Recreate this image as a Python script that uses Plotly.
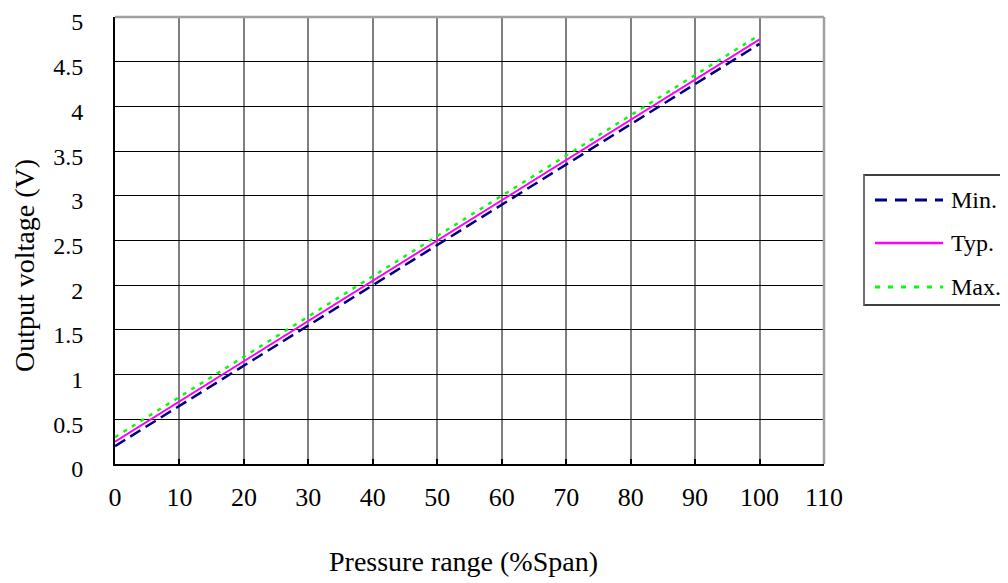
import plotly.graph_objects as go

pressure = [0, 10, 20, 30, 40, 50, 60, 70, 80, 90, 100]
v_min = [0.20, 0.65, 1.10, 1.55, 2.00, 2.45, 2.90, 3.35, 3.80, 4.25, 4.70]
v_typ = [0.25, 0.70, 1.15, 1.60, 2.05, 2.50, 2.95, 3.40, 3.85, 4.30, 4.75]
v_max = [0.30, 0.75, 1.20, 1.65, 2.10, 2.55, 3.00, 3.45, 3.90, 4.35, 4.80]

x_ticks = [0, 10, 20, 30, 40, 50, 60, 70, 80, 90, 100, 110]
y_ticks = [0, 0.5, 1, 1.5, 2, 2.5, 3, 3.5, 4, 4.5, 5]
y_labels = ["0", "0.5", "1", "1.5", "2", "2.5", "3", "3.5", "4", "4.5", "5"]

series_names = ["Min.", "Typ.", "Max."]
series_colors = ["#000080", "#FF00FF", "#00FF00"]
series_dash = ["12px,6px", "solid", "4px,6px"]
legend_dash = ["12px,8px", "solid", "5px,8px"]
series_width = [2.5, 2, 2.5]

FONT = "Liberation Serif"

fig = go.Figure()
for name, vals, col, dash, w in zip(series_names, [v_min, v_typ, v_max],
                                     series_colors, series_dash, series_width):
    fig.add_trace(go.Scatter(x=pressure, y=vals, mode="lines", name=name,
                             line=dict(color=col, width=w, dash=dash),
                             showlegend=False))

# top and right plot border in gray
fig.add_shape(type="line", xref="paper", yref="paper", x0=0, x1=1, y0=1, y1=1,
              line=dict(color="#a0a0a0", width=2.5), layer="above")
fig.add_shape(type="line", xref="paper", yref="paper", x0=1, x1=1, y0=0, y1=1,
              line=dict(color="#a0a0a0", width=2.5), layer="above")

# custom legend box
fig.add_shape(type="rect", xref="paper", yref="paper",
              x0=1.0564, x1=1.30, y0=0.3557, y1=0.6465,
              line=dict(color="black", width=1.5), fillcolor="white")
fig.add_shape(type="line", xref="paper", yref="paper",
              x0=1.0564, x1=1.0564, y0=0.3557, y1=0.6465,
              line=dict(color="#808080", width=1.5))
leg_y = [0.5906, 0.4944, 0.396]
for name, col, dash, w, ly in zip(series_names, series_colors, legend_dash,
                                  series_width, leg_y):
    fig.add_shape(type="line", xref="paper", yref="paper",
                  x0=1.0719, x1=1.1678, y0=ly, y1=ly,
                  line=dict(color=col, width=w + 0.5, dash=dash))
    fig.add_annotation(text=name, xref="paper", yref="paper", x=1.1763, y=ly,
                       xanchor="left", yanchor="middle", showarrow=False,
                       font=dict(family=FONT, size=24, color="black"))

# axis titles
fig.add_annotation(text="Pressure range (%Span)", xref="paper", yref="paper",
                   x=0.4922, y=-0.2192, xanchor="center", yanchor="middle",
                   showarrow=False, font=dict(family=FONT, size=28, color="black"))
fig.add_annotation(text="Output voltage (V)", xref="paper", yref="paper",
                   x=-0.1269, y=0.443, xanchor="center", yanchor="middle",
                   textangle=-90, showarrow=False,
                   font=dict(family=FONT, size=28, color="black"))

fig.update_layout(
    width=1008, height=583,
    margin=dict(l=107, r=192, t=9, b=127),
    paper_bgcolor="white", plot_bgcolor="white",
    font=dict(family=FONT, size=26, color="black"),
    showlegend=False,
    xaxis=dict(range=[0, 110], tickvals=x_ticks, showgrid=True,
               gridcolor="#808080", gridwidth=1.5,
               showline=True, linecolor="black", linewidth=2,
               ticks="inside", ticklen=5, tickcolor="black", tickwidth=2,
               ticklabelstandoff=9, zeroline=False, automargin=False,
               ticklabeloverflow="allow",
               tickfont=dict(family=FONT, size=26)),
    yaxis=dict(range=[0, 5], tickvals=y_ticks, ticktext=y_labels, showgrid=True,
               gridcolor="black", gridwidth=1,
               showline=True, linecolor="black", linewidth=2,
               ticks="", ticklabelstandoff=25, ticklabelshift=5,
               zeroline=False, automargin=False,
               ticklabeloverflow="allow",
               tickfont=dict(family=FONT, size=24)),
)

fig.write_html("out.html")
